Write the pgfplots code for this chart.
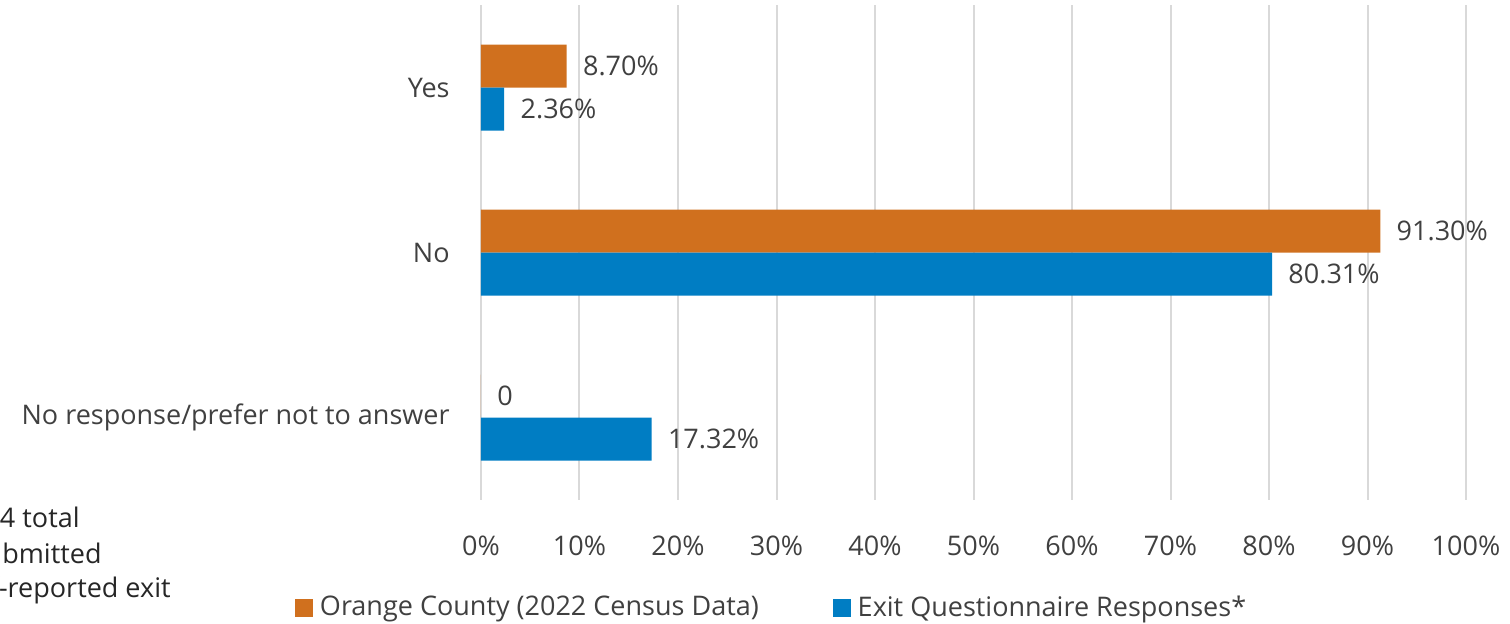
\documentclass[border=0pt]{standalone}
\usepackage{fontspec}
\setmainfont{Open Sans}
\usepackage{pgfplots}
\pgfplotsset{compat=1.18}
\definecolor{oc}{HTML}{D0701E}
\definecolor{eq}{HTML}{007DC3}
\definecolor{txt}{HTML}{404040}
\definecolor{grd}{HTML}{D9D9D9}
\begin{document}
\fontsize{13.5pt}{16pt}\selectfont
\begin{tikzpicture}[x=1pt,y=1pt]
\useasboundingbox (0,0) rectangle (755,311.5);
\clip (0,0) rectangle (755,311.5);
\begin{axis}[
  at={(240.5pt,61.5pt)}, anchor=south west,
  scale only axis, width=492.5pt, height=247.5pt,
  xbar=0pt, bar width=21.5pt,
  xmin=0, xmax=100, ymin=-0.5, ymax=2.5,
  y dir=reverse,
  axis line style={draw=none},
  major tick length=0pt,
  xtick={0,10,...,100},
  xticklabels={0\%,10\%,20\%,30\%,40\%,50\%,60\%,70\%,80\%,90\%,100\%},
  ytick={0,1,2},
  yticklabels={Yes,No,No response/prefer not to answer},
  xmajorgrids, grid style={draw=grd, line width=1pt},
  ymajorgrids=false,
  tick label style={font=\fontsize{13.5pt}{16pt}\selectfont, text=txt},
  xticklabel style={anchor=base, inner sep=0pt, yshift=-27.5pt},
  yticklabel style={anchor=east, inner sep=0pt, xshift=-15.5pt},
  point meta=explicit symbolic,
  nodes near coords={\pgfplotspointmeta},
  every node near coord/.style={anchor=west, inner sep=0pt, xshift=8pt, text=txt, font=\fontsize{13.5pt}{16pt}\selectfont},
  legend style={at={(0.296,-0.218)}, anchor=center, draw=none, fill=none,
    legend columns=2, font=\fontsize{13.5pt}{16pt}\selectfont, text=txt,
    /tikz/every even column/.append style={column sep=35pt},
    inner sep=0pt},
  legend cell align=left,
  legend image code/.code={\fill[#1] (0pt,-4.5pt) rectangle (9pt,4.5pt); \path (10.5pt,0pt);},
  clip=false,
]
\addplot[draw=none, fill=oc, bar shift=10.75pt,
  every node near coord/.append style={yshift=10.75pt}]
  coordinates {(8.70,0) [8.70\%] (91.30,1) [91.30\%] (0,2) [0]};
\addplot[draw=none, fill=eq, bar shift=-10.75pt,
  every node near coord/.append style={yshift=-10.75pt}]
  coordinates {(2.36,0) [2.36\%] (80.31,1) [80.31\%] (17.32,2) [17.32\%]};
\legend{Orange County (2022 Census Data), Exit Questionnaire Responses*}
\end{axis}
\begin{scope}[every node/.style={inner sep=0pt, anchor=base east, text=black!85}]
\node at (40,48) {*Out of 254 total};
\node at (51,30) {responses submitted};
\node at (85.5,13) {via self-reported exit};
\node at (1.5,-4.5) {survey.};
\end{scope}
\end{tikzpicture}
\end{document}
